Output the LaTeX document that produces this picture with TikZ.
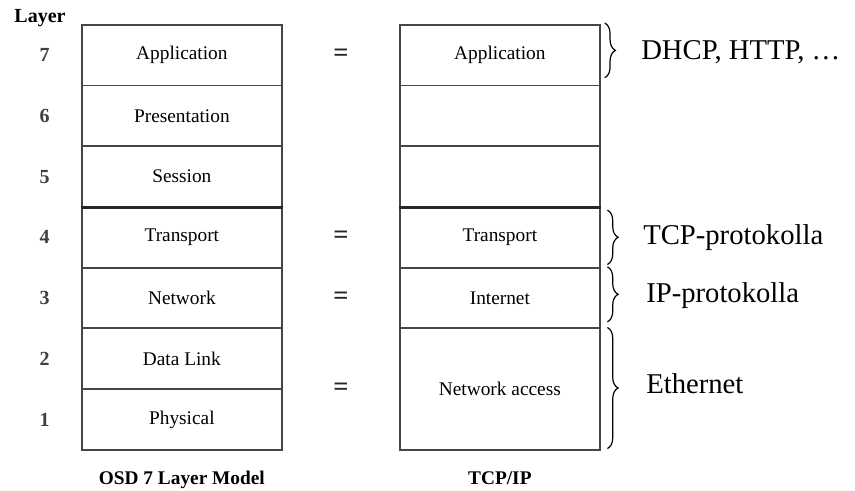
\documentclass[tikz,border=0pt]{standalone}
\usepackage{fontspec}
\setmainfont{Liberation Serif}
\usepackage{tikz}
\usetikzlibrary{positioning,calc,decorations.pathreplacing}

\definecolor{boxline}{RGB}{70,70,70}

\tikzset{
  layerbox/.style={draw=boxline, line width=1.3pt, rectangle, anchor=north west,
    minimum width=150pt, minimum height=45.5pt, inner sep=0pt,
    font=\fontsize{14.5}{16}\selectfont},
  sepline/.style={draw=black!85, line width=2.2pt},
  layernum/.style={font=\fontsize{15}{16}\selectfont\bfseries, text=black!75},
  equalsign/.style={font=\fontsize{20}{20}\selectfont\bfseries, text=black!85},
  footlabel/.style={font=\fontsize{14.5}{16}\selectfont\bfseries},
  protobrace/.style={draw=black, line width=0.9pt,
    decorate, decoration={brace, amplitude=8pt}},
  protolabel/.style={font=\fontsize{21.5}{24}\selectfont, anchor=west, inner sep=0.75pt}
}

\begin{document}
\begin{tikzpicture}[x=0.75pt,y=0.75pt,yscale=-1,xscale=1]
\useasboundingbox (0,0) rectangle (855,491);

% OSI column
\node (osi7) [layerbox] at (81,24) {Application};
\node (osi6) [layerbox] at (81,84.7) {Presentation};
\node (osi5) [layerbox] at (81,145.4) {Session};
\node (osi4) [layerbox] at (81,206.1) {Transport};
\node (osi3) [layerbox] at (81,266.8) {Network};
\node (osi2) [layerbox] at (81,327.5) {Data Link};
\node (osi1) [layerbox] at (81,388.2) {Physical};

% TCP/IP column
\node (tcp7) [layerbox] at (399,24) {Application};
\node (tcp6) [layerbox] at (399,84.7) {};
\node (tcp5) [layerbox] at (399,145.4) {};
\node (tcp4) [layerbox] at (399,206.1) {Transport};
\node (tcp3) [layerbox] at (399,266.8) {Internet};
\node (tcp1) [layerbox, minimum height=91pt] at (399,327.5) {Network access};

% thick line under session layer
\draw [sepline] (osi5.south west) -- (osi5.south east);
\draw [sepline] (tcp5.south west) -- (tcp5.south east);

% layer numbers
\node (layerhead) [layernum, text=black] at (40,18) {Layer};
\node (n7) [layernum, left=20pt of osi7] {7};
\node (n6) [layernum, left=20pt of osi6] {6};
\node (n5) [layernum, left=20pt of osi5] {5};
\node (n4) [layernum, left=20pt of osi4] {4};
\node (n3) [layernum, left=20pt of osi3] {3};
\node (n2) [layernum, left=20pt of osi2] {2};
\node (n1) [layernum, left=20pt of osi1] {1};

% equal signs
\node (eq7) [equalsign] at ($(osi7)!0.5!(tcp7)$) {=};
\node (eq4) [equalsign] at ($(osi4)!0.5!(tcp4)$) {=};
\node (eq3) [equalsign] at ($(osi3)!0.5!(tcp3)$) {=};
\node (eq1) [equalsign] at ($(osi2.south east)!0.5!(tcp1.west)$) {=};

% column titles
\node (osititle) [footlabel, below=12pt of osi1] {OSD 7 Layer Model};
\node (tcptitle) [footlabel, below=12pt of tcp1] {TCP/IP};

% protocol braces
\draw [protobrace] ([xshift=3pt,yshift=-0.75pt]tcp7.north east) -- ([xshift=3pt,yshift=-6.5pt]tcp7.south east);
\draw [protobrace] ([xshift=5pt,yshift=3pt]tcp4.north east) -- ([xshift=5pt,yshift=-3pt]tcp4.south east);
\draw [protobrace] ([xshift=5pt]tcp3.north east) -- ([xshift=5pt,yshift=-5.5pt]tcp3.south east);
\draw [protobrace] ([xshift=5pt]tcp1.north east) -- ([xshift=5pt,yshift=-1.5pt]tcp1.south east);

% protocol texts
\node (dhcp) [protolabel] at (640,52) {DHCP, HTTP, …};
\node (tcpproto) [protolabel] at (642,238) {TCP-protokolla};
\node (ipproto) [protolabel] at (645,296) {IP-protokolla};
\node (ether) [protolabel] at (645,384) {Ethernet};

\end{tikzpicture}
\end{document}
